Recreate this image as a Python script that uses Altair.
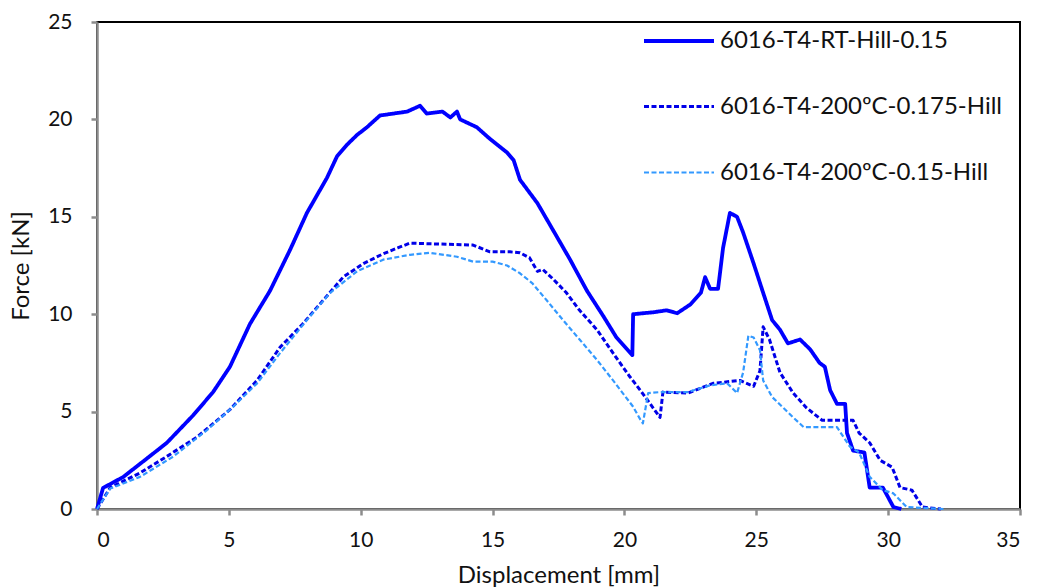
import altair as alt
import pandas as pd

# ---- data ----
rt_x = [0.0, 0.23, 0.99, 1.9, 2.65, 3.64, 4.4, 5.04, 5.8, 6.56, 7.32, 7.96, 8.72, 9.1, 9.48, 9.86, 10.24, 10.73,
        11.76, 12.25, 12.5, 13.1, 13.4, 13.65, 13.77, 14.4, 14.9, 15.55, 15.8, 16.04, 16.7, 17.3, 17.94,
        18.58, 19.2, 19.7, 20.1, 20.3, 20.33, 21.1, 21.6, 22.0, 22.5, 22.9, 23.06, 23.25, 23.55, 23.74,
        24.0, 24.27, 24.5, 24.9, 25.26, 25.6, 25.9, 26.2, 26.66, 27.04, 27.4, 27.6, 27.8, 28.06, 28.37,
        28.44, 28.67, 29.1, 29.3, 29.8, 30.2, 30.5]
rt_y = [0.0, 1.08, 1.64, 2.6, 3.4, 4.8, 6.0, 7.3, 9.5, 11.2, 13.3, 15.2, 17.0, 18.1, 18.7, 19.2, 19.6, 20.2,
        20.4, 20.7, 20.3, 20.4, 20.1, 20.4, 20.0, 19.6, 19.0, 18.3, 17.9, 16.9, 15.7, 14.3, 12.8,
        11.2, 9.9, 8.8, 8.2, 7.9, 10.0, 10.1, 10.2, 10.05, 10.5, 11.1, 11.9, 11.3, 11.3, 13.4,
        15.2, 15.0, 14.2, 12.6, 11.1, 9.7, 9.2, 8.5, 8.7, 8.2, 7.5, 7.3, 6.1, 5.4, 5.4,
        3.9, 3.0, 2.9, 1.1, 1.1, 0.1, 0.0]

h175_x = [0.0, 0.5, 1.63, 2.65, 3.8, 5.04, 6.07, 6.94, 7.8, 8.57, 9.33, 10.1, 10.85, 11.4, 11.87,
          13.0, 14.26, 14.9, 15.66, 16.04, 16.4, 16.7, 16.9, 17.3, 17.8, 18.3, 18.96, 19.57, 20.2,
          20.6, 21.35, 21.46, 22.4, 23.36, 24.38, 24.9, 25.14, 25.26, 25.5, 25.9, 26.4, 26.9, 27.5,
          28.67, 28.9, 29.3, 29.7, 30.15, 30.45, 30.9, 31.3, 32.0]
h175_y = [0.0, 1.1, 1.85, 2.7, 3.7, 5.1, 6.6, 8.3, 9.5, 10.7, 11.9, 12.6, 13.1, 13.4, 13.65,
          13.6, 13.55, 13.2, 13.2, 13.15, 12.9, 12.2, 12.3, 11.8, 11.1, 10.2, 9.2, 8.0, 6.8,
          6.1, 4.7, 6.0, 5.95, 6.45, 6.6, 6.3, 7.1, 9.35, 8.7, 7.0, 5.95, 5.2, 4.55,
          4.55, 3.9, 3.4, 2.5, 2.15, 1.1, 0.97, 0.1, 0.0]

h15_x = [0.0, 0.5, 1.63, 2.9, 4.17, 5.16, 6.07, 6.94, 7.96, 8.84, 9.86, 10.85, 11.87, 12.63, 13.65,
         14.26, 15.0, 15.55, 16.04, 16.5, 17.06, 17.67, 18.3, 18.96, 19.57, 20.33, 20.6, 20.7, 20.9,
         21.35, 22.4, 23.25, 23.9, 24.27, 24.5, 24.7, 24.9, 25.14, 25.26, 25.6, 26.4, 26.8, 28.06,
         28.55, 28.9, 29.3, 29.8, 30.2, 30.7, 32.1]
h15_y = [0.0, 1.05, 1.65, 2.7, 4.05, 5.25, 6.45, 8.0, 9.7, 11.1, 12.2, 12.8, 13.05, 13.15, 12.95,
         12.7, 12.7, 12.5, 12.1, 11.6, 10.7, 9.7, 8.7, 7.65, 6.6, 5.25, 4.6, 4.4, 5.95,
         6.0, 6.0, 6.35, 6.45, 5.95, 7.0, 8.9, 8.8, 8.15, 6.6, 5.75, 4.7, 4.2, 4.2,
         3.2, 2.9, 1.65, 0.97, 0.8, 0.1, 0.0]

series = ["6016-T4-RT-Hill-0.15", "6016-T4-200ºC-0.175-Hill", "6016-T4-200ºC-0.15-Hill"]
colors = ["#0000FF", "#0000E8", "#3399FF"]

rows = []
for name, xs, ys in zip(series, [rt_x, h175_x, h15_x], [rt_y, h175_y, h15_y]):
    for i, (x, y) in enumerate(zip(xs, ys)):
        rows.append({"series": name, "x": x, "y": y, "i": i})
df = pd.DataFrame(rows)

font = "Lato"
leg = alt.Legend(title=None, orient="none", legendX=545, legendY=-18,
                 symbolType="stroke", symbolSize=4900, rowPadding=17,
                 labelFontSize=24, labelFont=font, labelColor="#111",
                 labelOffset=4, padding=0, labelLimit=400)

chart = alt.Chart(df).mark_line(interpolate="linear", strokeJoin="round").encode(
    x=alt.X("x:Q", scale=alt.Scale(domain=[0, 35], nice=False),
            axis=alt.Axis(title="Displacement [mm]", values=[0, 5, 10, 15, 20, 25, 30, 35],
                          grid=False, tickSize=6, labelPadding=14, titlePadding=13)),
    y=alt.Y("y:Q", scale=alt.Scale(domain=[0, 25], nice=False),
            axis=alt.Axis(title="Force [kN]", values=[0, 5, 10, 15, 20, 25],
                          grid=False, tickSize=6, labelPadding=19, titlePadding=14)),
    color=alt.Color("series:N", scale=alt.Scale(domain=series, range=colors), legend=leg),
    strokeDash=alt.StrokeDash("series:N", scale=alt.Scale(domain=series, range=[[1, 0], [5, 2.5], [5, 2.5]]), legend=leg),
    strokeWidth=alt.StrokeWidth("series:N", scale=alt.Scale(domain=series, range=[3.8, 2.2, 2.2]), legend=leg),
    order="i:Q",
).properties(
    width=923, height=487,
    autosize=alt.AutoSizeParams(type="none"),
    padding={"left": 97, "top": 22, "right": 18, "bottom": 78},
    background="white",
).configure_view(
    stroke="black", strokeWidth=2
).configure_axis(
    domainColor="#8c8c8c", domainWidth=2.5, tickColor="#8c8c8c", tickWidth=2.5,
    labelFont=font, labelFontSize=21, labelColor="#111",
    titleFont=font, titleFontSize=24, titleFontWeight="normal", titleColor="#111",
)

chart.save("out.html", embed_options={"renderer": "svg", "actions": False})
